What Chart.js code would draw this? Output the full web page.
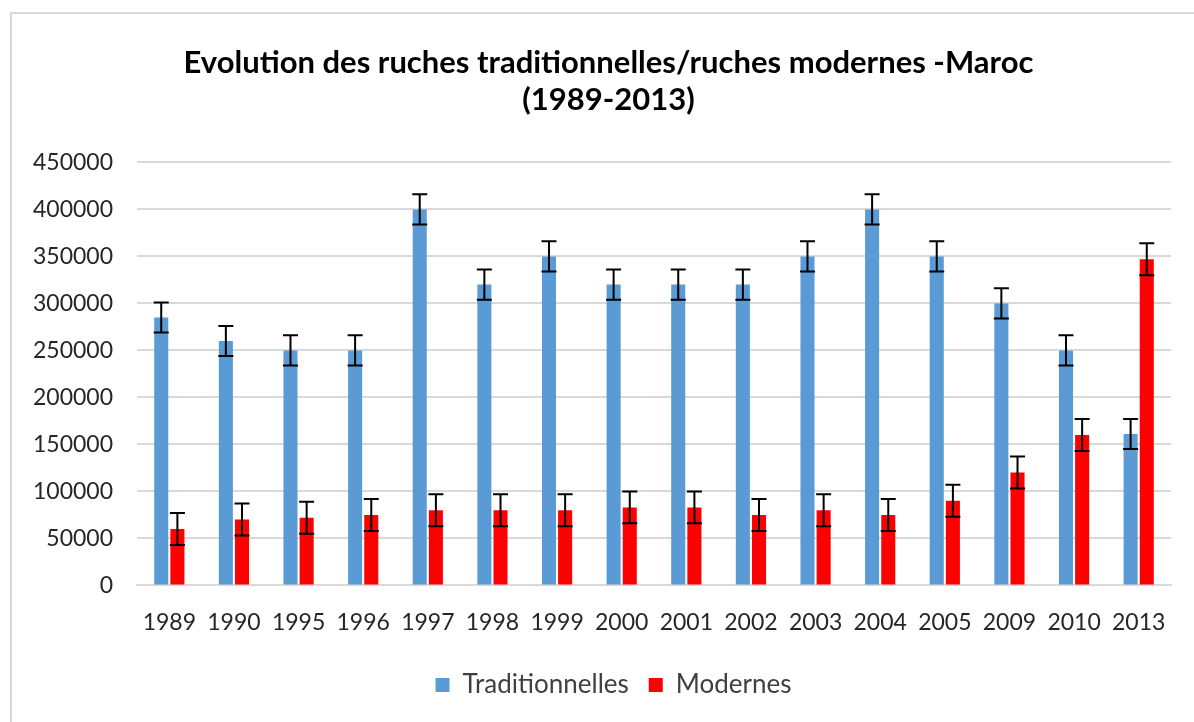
<!DOCTYPE html>
<html lang="fr">
<head>
    <meta charset="UTF-8">
    <title>Evolution des ruches - Maroc</title>
    <script src="https://cdn.jsdelivr.net/npm/chart.js"></script>
    <style>
        body {
            margin: 0;
            background: #ffffff;
        }
        .frame {
            position: absolute;
            left: 10px;
            top: 12px;
            width: 1184px;
            height: 710px;
            border-top: 2px solid #d9d9d9;
            border-left: 2px solid #d9d9d9;
        }
        .chart-box {
            position: absolute;
            left: 0;
            top: 0;
            width: 1194px;
            height: 722px;
        }
    </style>
</head>
<body>
    <div class="frame"></div>
    <div class="chart-box">
        <canvas id="ruches-chart"></canvas>
    </div>

    <script>
        // Data
        const years = ['1989', '1990', '1995', '1996', '1997', '1998', '1999', '2000',
                       '2001', '2002', '2003', '2004', '2005', '2009', '2010', '2013'];
        const traditionnelles = [285000, 260000, 250000, 250000, 400000, 320000, 350000, 320000,
                                 320000, 320000, 350000, 400000, 350000, 300000, 250000, 161000];
        const modernes = [60000, 70000, 72000, 75000, 80000, 80000, 80000, 83000,
                          83000, 75000, 80000, 75000, 90000, 120000, 160000, 347000];
        // error bar amount (same for every point of a series)
        const errTraditionnelles = [16000];
        const errModernes = [17000];

        // Draws the error bars through the y scale
        const errorBars = {
            id: 'errorBars',
            afterDatasetsDraw(chart) {
                const ctx = chart.ctx;
                const yScale = chart.scales.y;
                ctx.save();
                ctx.strokeStyle = '#000000';
                ctx.lineWidth = 2;
                chart.data.datasets.forEach((ds, di) => {
                    const meta = chart.getDatasetMeta(di);
                    const err = ds.errorAmount[0];
                    meta.data.forEach((bar, i) => {
                        const v = ds.data[i];
                        const top = yScale.getPixelForValue(v + err);
                        const bottom = yScale.getPixelForValue(v - err);
                        const half = 7.5;
                        ctx.beginPath();
                        ctx.moveTo(bar.x, top);
                        ctx.lineTo(bar.x, bottom);
                        ctx.moveTo(bar.x - half, top);
                        ctx.lineTo(bar.x + half, top);
                        ctx.moveTo(bar.x - half, bottom);
                        ctx.lineTo(bar.x + half, bottom);
                        ctx.stroke();
                    });
                });
                ctx.restore();
            }
        };

        // Title and legend are centred a bit right of the plot in the original
        const shiftHeader = {
            id: 'shiftHeader',
            afterLayout(chart) {
                if (chart.titleBlock) {
                    chart.titleBlock.left += 13;
                    chart.titleBlock.right += 13;
                }
                if (chart.legend) {
                    chart.legend.left += 18;
                    chart.legend.right += 18;
                }
            }
        };

        Chart.defaults.font.family = 'Lato, "Open Sans", sans-serif';
        Chart.defaults.color = '#262626';

        new Chart(document.getElementById('ruches-chart'), {
            type: 'bar',
            data: {
                labels: years,
                datasets: [
                    {
                        label: 'Traditionnelles',
                        data: traditionnelles,
                        errorAmount: errTraditionnelles,
                        backgroundColor: '#5b9bd5',
                        barPercentage: 0.87,
                        categoryPercentage: 0.5
                    },
                    {
                        label: 'Modernes',
                        data: modernes,
                        errorAmount: errModernes,
                        backgroundColor: '#ff0000',
                        barPercentage: 0.87,
                        categoryPercentage: 0.5
                    }
                ]
            },
            options: {
                responsive: true,
                maintainAspectRatio: false,
                animation: false,
                layout: {
                    padding: { left: 20, right: 23, top: 0, bottom: 14 }
                },
                plugins: {
                    title: {
                        display: true,
                        text: ['Evolution des ruches traditionnelles/ruches modernes -Maroc', '(1989-2013)'],
                        color: '#000000',
                        font: { size: 31, weight: 'bold', lineHeight: 1.2 },
                        padding: { top: 44, bottom: 44 }
                    },
                    legend: {
                        position: 'bottom',
                        labels: {
                            boxWidth: 14,
                            boxHeight: 14,
                            padding: 20,
                            font: { size: 26 },
                            color: '#404040'
                        }
                    },
                    tooltip: { enabled: false }
                },
                scales: {
                    x: {
                        grid: { display: false },
                        border: { color: '#d9d9d9', width: 2 },
                        afterFit: scale => { scale.height += 1; },
                        ticks: {
                            padding: 15,
                            maxRotation: 0,
                            font: { size: 23 }
                        }
                    },
                    y: {
                        min: 0,
                        max: 450000,
                        afterFit: scale => { scale.width = 117; },
                        ticks: {
                            stepSize: 50000,
                            padding: 24,
                            font: { size: 23 },
                            callback: value => String(value)
                        },
                        grid: {
                            color: '#d9d9d9',
                            lineWidth: 2,
                            drawTicks: false
                        },
                        border: { display: false }
                    }
                }
            },
            plugins: [errorBars, shiftHeader]
        });
    </script>
</body>
</html>
